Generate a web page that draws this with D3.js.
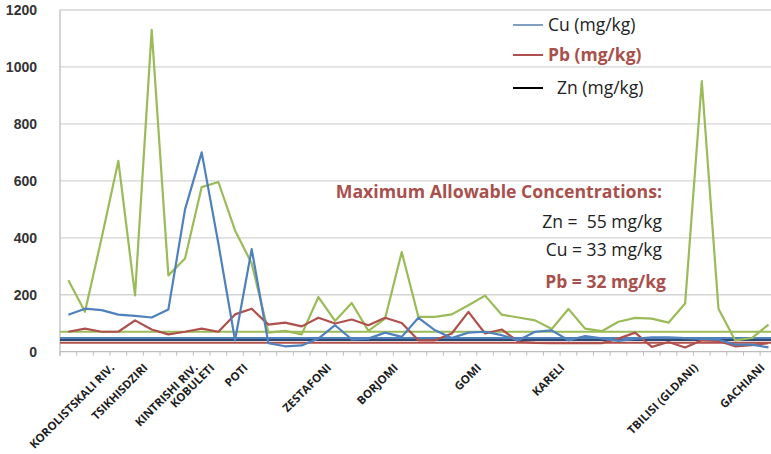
<!DOCTYPE html>
<html>
<head>
<meta charset="utf-8">
<script src="https://cdn.jsdelivr.net/npm/d3@7"></script>
<style>
  body { margin: 0; background: #fff; }
  svg { display: block; font-family: "Open Sans", sans-serif; }
  text { white-space: pre; }
</style>
</head>
<body>
<script>
// sampling sites (only some carry a label on the axis)
const siteLabels = ['', '', '', 'KOROLISTSKALI RIV.', '', 'TSIKHISDZIRI', '', '', 'KINTRISHI RIV.', 'KOBULETI',
  '', 'POTI', '', '', '', '', 'ZESTAFONI', '', '', '', 'BORJOMI', '', '', '', '', 'GOMI', '', '', '', '',
  'KARELI', '', '', '', '', '', '', '', 'TBILISI (GLDANI)', '', '', '', 'GACHIANI'];

const cu = [130, 151, 146, 130, 126, 120, 148, 500, 700, 380, 40, 360, 30, 19, 22, 46, 93, 43, 46, 67, 52,
  119, 75, 48, 67, 70, 58, 40, 70, 75, 40, 55, 47, 38, 45, 50, 50, 48, 45, 42, 25, 25, 15];
const pb = [70, 81, 70, 70, 110, 78, 61, 70, 81, 70, 131, 151, 95, 102, 89, 119, 99, 113, 93, 119, 101,
  40, 40, 64, 140, 64, 78, 35, 31, 30, 30, 30, 30, 46, 67, 17, 34, 15, 40, 38, 19, 23, 30];
const zn = [251, 140, 400, 670, 198, 1130, 268, 327, 578, 596, 426, 310, 67, 73, 61, 192, 108, 171, 73, 116, 350,
  122, 122, 131, 163, 197, 130, 120, 110, 80, 150, 81, 72, 105, 119, 116, 102, 169, 950, 151, 40, 48, 95];

// horizontal limit lines drawn across the plot
const limitValues = [70, 48, 41, 31];
const limitColors = ['#9bbb59', '#4f81bd', '#2c4a74', '#b0504c'];

const yTicks = [0, 200, 400, 600, 800, 1000, 1200];

const legendNames = ['Cu (mg/kg)', 'Pb (mg/kg)', 'Zn (mg/kg)'];
const noteLines = ['Maximum Allowable Concentrations:', 'Zn =  55 mg/kg', 'Cu = 33 mg/kg', 'Pb = 32 mg/kg'];

const W = 771, H = 454;
const plotLeft = 60, plotTop = 10, plotBottom = 351.7;
const step = 16.67;

const svg = d3.select('body').append('svg')
  .attr('width', W)
  .attr('height', H);

const idx = d3.range(siteLabels.length);
const x = d3.scaleBand()
  .domain(idx)
  .range([plotLeft, plotLeft + step * idx.length])
  .paddingInner(0).paddingOuter(0);
const cx = i => x(i) + x.bandwidth() / 2;

const y = d3.scaleLinear()
  .domain([0, 1200])
  .range([plotBottom, plotTop]);

// gridlines
svg.append('g')
  .selectAll('line')
  .data(yTicks.filter(d => d > 0))
  .join('line')
  .attr('x1', plotLeft).attr('x2', W)
  .attr('y1', d => y(d)).attr('y2', d => y(d))
  .attr('stroke', '#d4d4d4')
  .attr('stroke-width', 1.3);

// y axis labels
svg.append('g')
  .selectAll('text')
  .data(yTicks)
  .join('text')
  .attr('x', 37)
  .attr('y', d => y(d))
  .attr('dy', '0.35em')
  .attr('text-anchor', 'end')
  .attr('font-family', '"Liberation Sans", Arial, sans-serif')
  .attr('font-weight', 'bold')
  .attr('font-size', 14)
  .attr('fill', '#333')
  .text(d => d);

// axis lines
svg.append('line')
  .attr('x1', plotLeft).attr('x2', plotLeft)
  .attr('y1', plotTop).attr('y2', plotBottom + 4)
  .attr('stroke', '#bdbdbd').attr('stroke-width', 1.3);
svg.append('line')
  .attr('x1', plotLeft).attr('x2', W)
  .attr('y1', plotBottom).attr('y2', plotBottom)
  .attr('stroke', '#bdbdbd').attr('stroke-width', 1.3);
svg.append('g')
  .selectAll('line')
  .data(d3.range(idx.length + 1))
  .join('line')
  .attr('x1', i => plotLeft + i * x.step()).attr('x2', i => plotLeft + i * x.step())
  .attr('y1', plotBottom).attr('y2', plotBottom + 4)
  .attr('stroke', '#bdbdbd').attr('stroke-width', 1);

// limit lines
svg.append('g')
  .selectAll('line')
  .data(limitValues)
  .join('line')
  .attr('x1', plotLeft).attr('x2', W)
  .attr('y1', d => y(d)).attr('y2', d => y(d))
  .attr('stroke', (d, i) => limitColors[i])
  .attr('stroke-width', 2);

// series
const line = d3.line()
  .x((d, i) => cx(i))
  .y(d => y(d));

const series = [
  { values: zn, color: '#9bbb59' },
  { values: pb, color: '#b0504c' },
  { values: cu, color: '#4f81bd' }
];

svg.append('g')
  .selectAll('path')
  .data(series)
  .join('path')
  .attr('fill', 'none')
  .attr('stroke', d => d.color)
  .attr('stroke-width', 2.2)
  .attr('stroke-linejoin', 'round')
  .attr('d', d => line(d.values));

// category labels
svg.append('g')
  .selectAll('text')
  .data(idx.filter(i => siteLabels[i] !== ''))
  .join('text')
  .attr('transform', i => `translate(${cx(i) - 6},${plotBottom + 14}) rotate(-45)`)
  .attr('text-anchor', 'end')
  .attr('dy', '0.35em')
  .attr('font-weight', 'bold')
  .attr('font-size', 11.5)
  .attr('fill', '#1e1e1e')
  .text(i => siteLabels[i]);

// legend
const legendColors = ['#7f9fc0', '#b0504c', '#000'];
const legendY = [25, 55, 88];
const legendX = [548, 548, 557];
const lg = svg.append('g');
legendNames.forEach((name, i) => {
  lg.append('line')
    .attr('x1', 513).attr('x2', 543)
    .attr('y1', legendY[i]).attr('y2', legendY[i])
    .attr('stroke', legendColors[i])
    .attr('stroke-width', 2);
  lg.append('text')
    .attr('x', legendX[i])
    .attr('y', legendY[i])
    .attr('dy', '0.35em')
    .attr('font-size', 17.5)
    .attr('font-weight', i === 1 ? 'bold' : 'normal')
    .attr('fill', i === 1 ? '#a9504c' : '#222')
    .text(name);
});

// MAC note
const noteY = [192, 222, 250, 282];
svg.append('g')
  .selectAll('text')
  .data(noteLines)
  .join('text')
  .attr('x', (d, i) => i === 3 ? 666 : 662)
  .attr('y', (d, i) => noteY[i])
  .attr('dy', '0.35em')
  .attr('text-anchor', 'end')
  .attr('font-size', (d, i) => i === 0 ? 17.7 : 17.5)
  .attr('font-weight', (d, i) => (i === 0 || i === 3) ? 'bold' : 'normal')
  .attr('fill', (d, i) => (i === 0 || i === 3) ? '#a9504c' : '#222')
  .text(d => d);
</script>
</body>
</html>
